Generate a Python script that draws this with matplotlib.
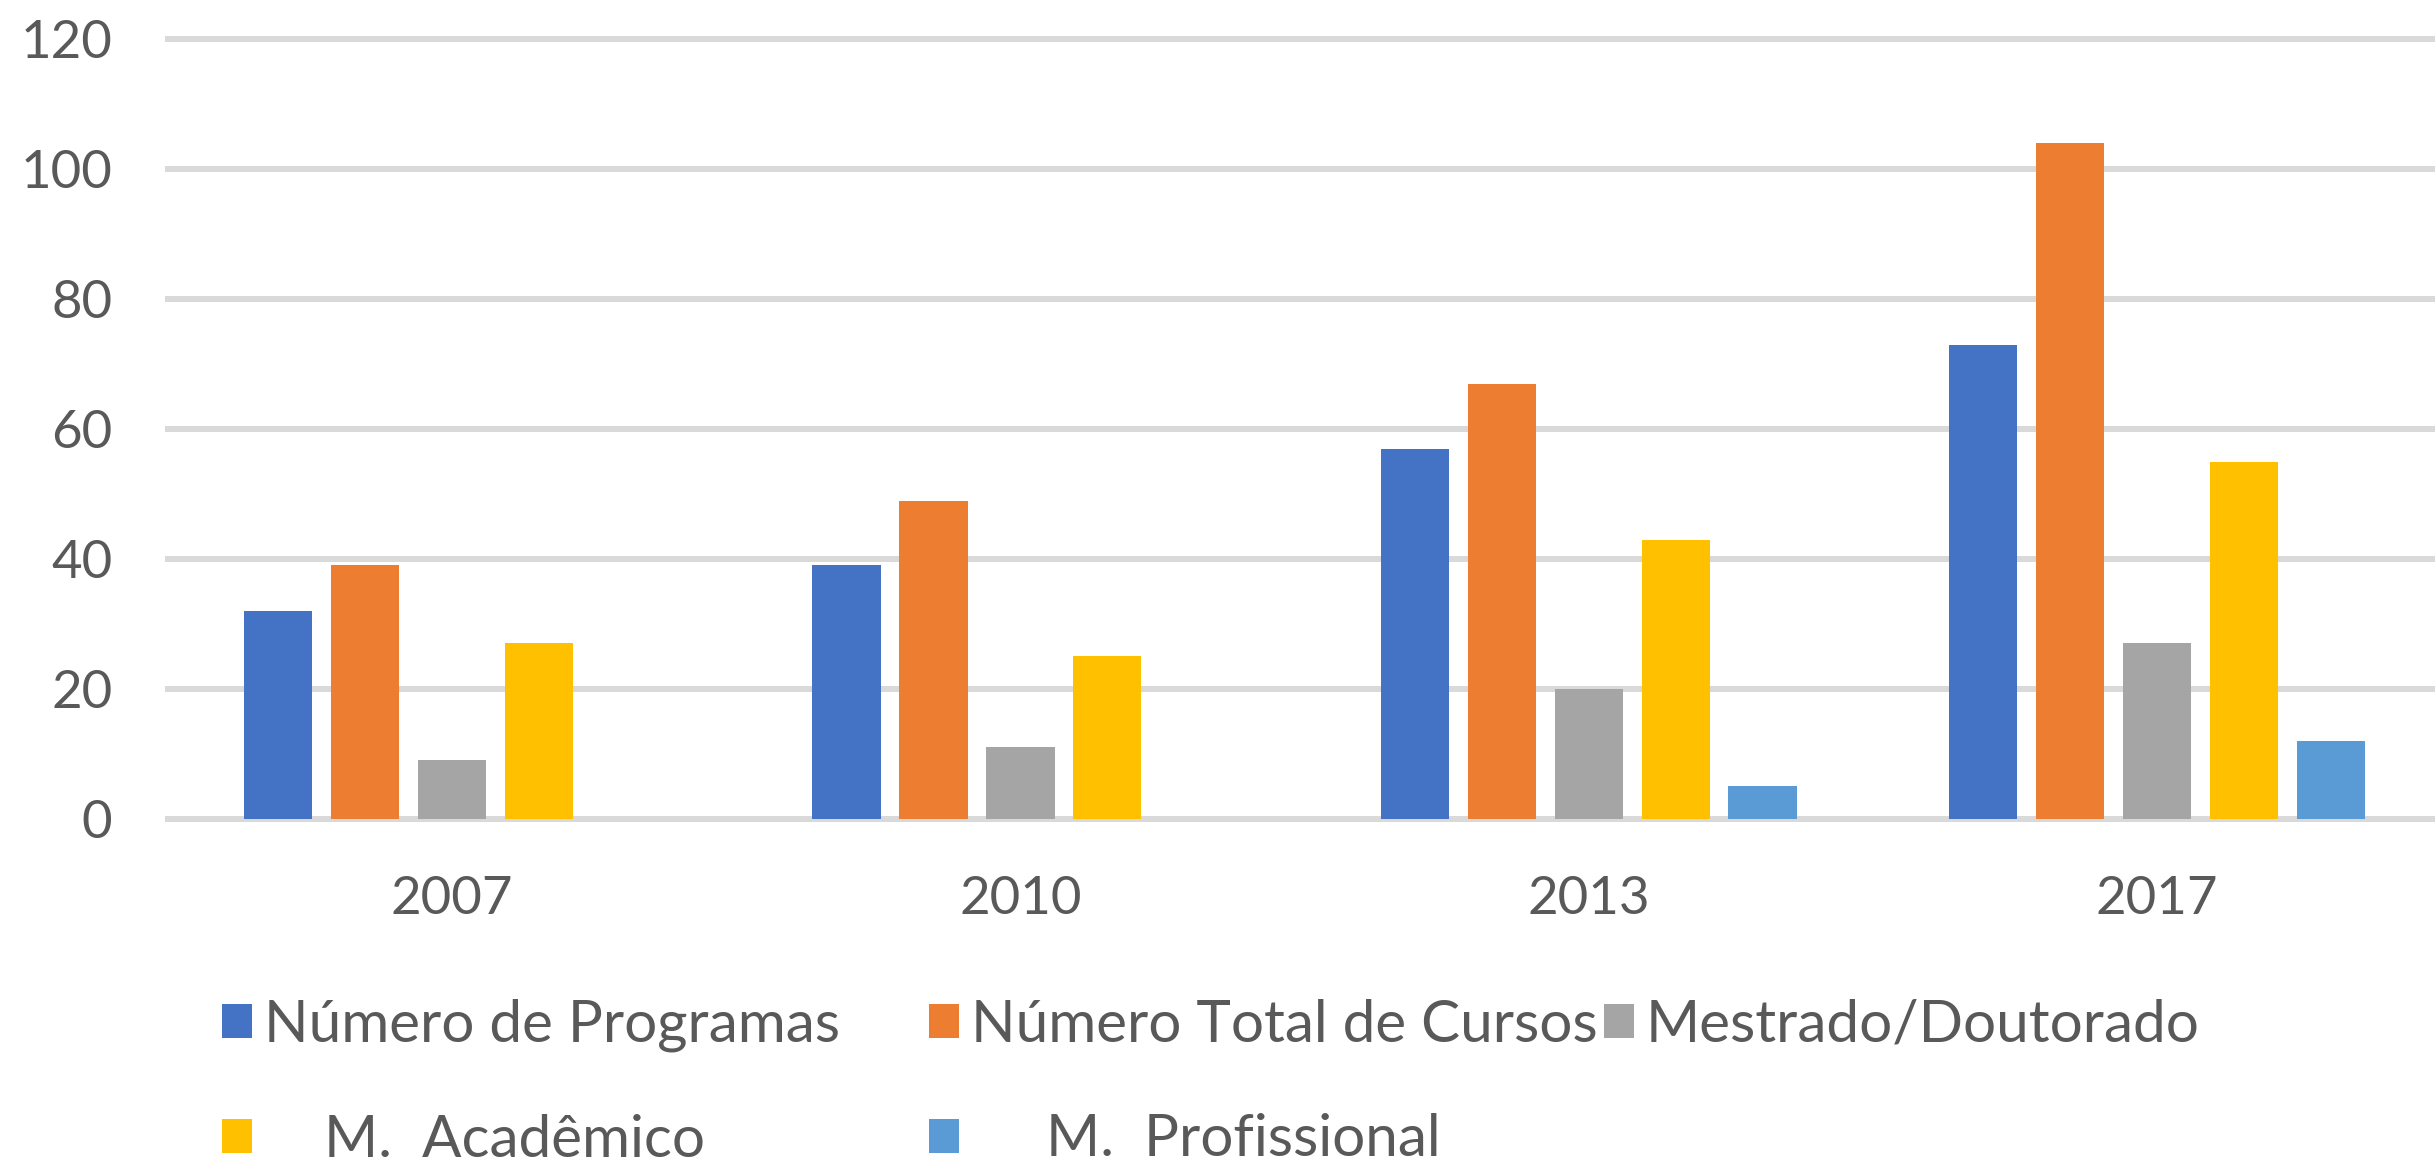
import matplotlib
matplotlib.use("Agg")
import matplotlib.pyplot as plt
import numpy as np

# data
anos = ["2007", "2010", "2013", "2017"]
num_programas = [32, 39, 57, 73]
num_total_cursos = [39, 49, 67, 104]
mestrado_doutorado = [9, 11, 20, 27]
m_academico = [27, 25, 43, 55]
m_profissional = [0, 0, 5, 12]

series_labels = ["Número de Programas", "Número Total de Cursos",
                 "Mestrado/Doutorado", "    M.  Acadêmico",
                 "     M.  Profissional"]
cores = ["#4472C4", "#ED7D31", "#A5A5A5", "#FFC000", "#5B9BD5"]
yticks = [0, 20, 40, 60, 80, 100, 120]

plt.rcParams['font.family'] = ['Lato', 'DejaVu Sans']
txt_color = "#595959"

fig = plt.figure(figsize=(24.35, 11.62), dpi=100)
ax = fig.add_axes([0.069, 0.2952, 0.9335, 0.6712])

x = np.arange(len(anos))
step = 0.153
width = 0.12
valores = [num_programas, num_total_cursos, mestrado_doutorado,
           m_academico, m_profissional]
bars = []
for j, vals in enumerate(valores):
    b = ax.bar(x + (j - 2) * step, vals, width, color=cores[j],
               label=series_labels[j], zorder=3)
    bars.append(b)

ax.set_xlim(-0.5, 3.5)
ax.set_ylim(0, 120)
ax.set_yticks(yticks)
ax.set_xticks(x)
ax.set_xticklabels(anos)
ax.tick_params(axis='both', length=0, labelsize=38, colors=txt_color)
ax.tick_params(axis='x', pad=41)
ax.tick_params(axis='y', pad=40)
for s in ax.spines.values():
    s.set_visible(False)
ax.set_axisbelow(True)
ax.yaxis.grid(True, color="#D9D9D9", linewidth=4.3)
for gl in ax.get_ygridlines():
    gl.set_clip_on(False)

# legend laid out in three columns like the original
cols = [([0, 3], 222), ([1, 4], 929), ([2], 1604)]
for idx, xpix in cols:
    leg = fig.legend([bars[i] for i in idx], [series_labels[i] for i in idx],
                     loc="upper left", bbox_to_anchor=(xpix / 2435, 1 - 999 / 1162),
                     frameon=False, fontsize=42, handlelength=0.52,
                     handleheight=0.52, handletextpad=0.2, labelspacing=1.05,
                     borderaxespad=0, borderpad=0, labelcolor=txt_color)

fig.savefig("out.png", dpi=100)
